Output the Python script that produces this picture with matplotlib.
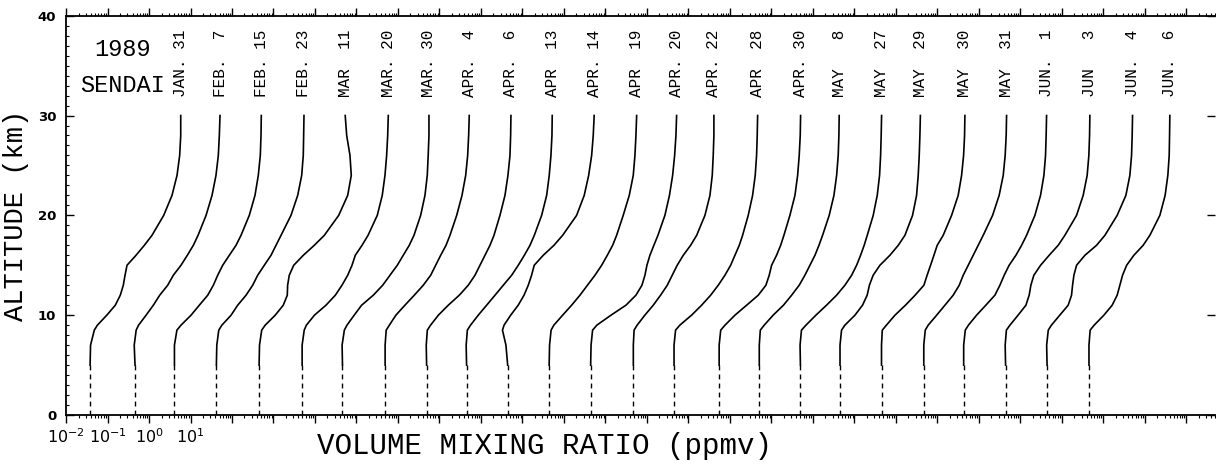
import numpy as np
import matplotlib
matplotlib.use('Agg')
import matplotlib.pyplot as plt
from matplotlib.ticker import FixedLocator, LogLocator, NullFormatter

# altitude levels (km) of the sonde profiles
alt = [5, 7, 8.5, 9, 10, 11, 12, 13, 14, 15, 16, 17, 18, 20, 22, 24, 26, 28, 30]

# ozone mixing ratio (ppmv), one list per launch
jan31 = [0.038, 0.039, 0.048, 0.057, 0.096, 0.154, 0.203, 0.240, 0.264, 0.295, 0.486, 0.771, 1.18, 2.26, 3.58, 4.73, 5.48, 5.81, 5.81]
feb07 = [0.046, 0.044, 0.049, 0.056, 0.085, 0.127, 0.181, 0.282, 0.385, 0.590, 0.838, 1.17, 1.52, 2.37, 3.30, 4.11, 4.68, 4.95, 5.14]
feb15 = [0.041, 0.041, 0.047, 0.059, 0.103, 0.163, 0.260, 0.355, 0.452, 0.597, 0.862, 1.25, 1.65, 2.61, 3.58, 4.30, 4.81, 5.00, 5.08]
feb23 = [0.042, 0.043, 0.048, 0.057, 0.095, 0.137, 0.218, 0.315, 0.416, 0.600, 0.871, 1.15, 1.52, 2.64, 3.83, 4.78, 5.22, 5.33, 5.43]
mar11 = [0.045, 0.046, 0.052, 0.063, 0.110, 0.172, 0.215, 0.219, 0.240, 0.307, 0.523, 0.962, 1.68, 3.73, 6.14, 7.49, 6.97, 5.81, 5.35]
mar20 = [0.049, 0.049, 0.055, 0.062, 0.097, 0.184, 0.309, 0.447, 0.614, 0.780, 0.936, 1.36, 1.90, 3.17, 4.18, 4.86, 5.33, 5.65, 5.84]
mar30 = [0.046, 0.045, 0.051, 0.059, 0.088, 0.133, 0.254, 0.428, 0.641, 0.962, 1.34, 1.87, 2.43, 3.52, 4.47, 5.08, 5.35, 5.58, 5.58]
apr04 = [0.049, 0.049, 0.052, 0.062, 0.089, 0.147, 0.247, 0.407, 0.614, 0.810, 1.07, 1.44, 1.79, 2.60, 3.49, 4.28, 4.78, 5.05, 5.22]
apr06 = [0.049, 0.048, 0.051, 0.061, 0.094, 0.163, 0.300, 0.494, 0.717, 0.946, 1.25, 1.65, 2.06, 2.87, 3.79, 4.47, 5.00, 5.19, 5.28]
apr13 = [0.045, 0.044, 0.047, 0.056, 0.086, 0.137, 0.218, 0.345, 0.549, 0.792, 1.11, 1.52, 1.93, 2.90, 3.83, 4.42, 4.86, 5.14, 5.22]
apr14 = [0.044, 0.040, 0.033, 0.036, 0.052, 0.079, 0.109, 0.138, 0.166, 0.192, 0.317, 0.574, 0.929, 2.02, 3.08, 3.94, 4.65, 5.08, 5.35]
apr19 = [0.044, 0.045, 0.049, 0.057, 0.093, 0.153, 0.243, 0.368, 0.559, 0.810, 1.11, 1.49, 1.86, 2.68, 3.75, 4.68, 5.14, 5.43, 5.65]
apr20 = [0.044, 0.045, 0.049, 0.062, 0.136, 0.312, 0.543, 0.758, 0.895, 1.00, 1.18, 1.47, 1.84, 2.71, 3.49, 4.16, 4.65, 5.00, 5.19]
apr22 = [0.047, 0.047, 0.049, 0.058, 0.089, 0.142, 0.213, 0.309, 0.407, 0.536, 0.750, 1.13, 1.58, 2.50, 3.30, 3.75, 3.96, 4.11, 4.11]
apr28 = [0.045, 0.045, 0.049, 0.062, 0.119, 0.208, 0.343, 0.523, 0.758, 1.04, 1.32, 1.68, 2.02, 2.76, 3.52, 4.07, 4.39, 4.55, 4.65]
apr30 = [0.055, 0.055, 0.060, 0.076, 0.132, 0.253, 0.481, 0.737, 0.885, 1.01, 1.33, 1.67, 2.00, 2.79, 3.69, 4.28, 4.68, 4.95, 5.05]
may08 = [0.051, 0.051, 0.054, 0.067, 0.110, 0.195, 0.307, 0.467, 0.641, 0.847, 1.12, 1.40, 1.71, 2.47, 3.21, 3.73, 4.07, 4.23, 4.30]
may27 = [0.050, 0.049, 0.053, 0.068, 0.118, 0.213, 0.372, 0.590, 0.857, 1.13, 1.41, 1.72, 2.04, 2.84, 3.55, 4.04, 4.28, 4.42, 4.52]
may29 = [0.045, 0.045, 0.049, 0.059, 0.103, 0.157, 0.203, 0.230, 0.283, 0.412, 0.717, 1.14, 1.65, 2.52, 3.15, 3.45, 3.65, 3.79, 3.89]
may30 = [0.045, 0.045, 0.047, 0.059, 0.095, 0.170, 0.290, 0.473, 0.565, 0.685, 0.825, 0.990, 1.38, 2.20, 3.17, 3.83, 4.28, 4.52, 4.60]
may31 = [0.047, 0.047, 0.051, 0.060, 0.096, 0.152, 0.240, 0.336, 0.419, 0.553, 0.730, 0.962, 1.27, 2.14, 3.08, 3.86, 4.30, 4.55, 4.65]
jun01 = [0.043, 0.043, 0.047, 0.056, 0.088, 0.147, 0.243, 0.321, 0.407, 0.536, 0.780, 1.07, 1.41, 2.24, 3.06, 3.69, 4.04, 4.18, 4.28]
jun03 = [0.044, 0.043, 0.046, 0.056, 0.088, 0.136, 0.163, 0.179, 0.211, 0.307, 0.494, 0.815, 1.18, 2.26, 3.26, 4.07, 4.47, 4.65, 4.73]
jun04 = [0.044, 0.043, 0.047, 0.056, 0.089, 0.142, 0.171, 0.181, 0.195, 0.226, 0.359, 0.685, 1.09, 2.15, 3.49, 4.35, 4.78, 4.95, 5.05]
jun06 = [0.045, 0.045, 0.048, 0.060, 0.103, 0.163, 0.215, 0.250, 0.290, 0.364, 0.543, 0.910, 1.32, 2.30, 3.08, 3.58, 3.86, 3.94, 4.00]

profiles = [jan31, feb07, feb15, feb23, mar11, mar20, mar30, apr04, apr06,
            apr13, apr14, apr19, apr20, apr22, apr28, apr30, may08, may27,
            may29, may30, may31, jun01, jun03, jun04, jun06]

dates = ['JAN. 31', 'FEB.  7', 'FEB. 15', 'FEB. 23', 'MAR  11', 'MAR. 20',
         'MAR. 30', 'APR.  4', 'APR.  6', 'APR  13', 'APR. 14', 'APR  19',
         'APR. 20', 'APR. 22', 'APR  28', 'APR. 30', 'MAY   8', 'MAY  27',
         'MAY  29', 'MAY  30', 'MAY  31', 'JUN.  1', 'JUN   3', 'JUN.  4',
         'JUN.  6']

xtick_labels = ['$10^{-2}$', '$10^{-1}$', '$10^{0}$', '$10^{1}$']

mono = 'Liberation Mono'

fig = plt.figure(figsize=(12.16, 4.70), dpi=100)
ax = fig.add_axes([0.0543, 0.117, 0.9452, 0.8496])

# each profile shifted one decade to the right of the previous one
for i, prof in enumerate(profiles):
    x = np.array(prof) * 10.0 ** i
    ax.plot(x, alt, color='black', lw=1.2, solid_joinstyle='round')
    ax.plot([x[0], x[0]], [0, alt[0]], color='black', lw=1.0, dashes=(3.5, 3))
    ax.text(x[-1], 31.9, dates[i], rotation=90, ha='center', va='bottom',
            family=mono, fontsize=11.5)

ax.set_xscale('log')
ax.set_xlim(1e-2, 10 ** 25.7)
ax.set_ylim(0, 40)

# x axis: decades, only the first four labelled
majors = 10.0 ** np.arange(-2, 26)
ax.xaxis.set_major_locator(FixedLocator(majors))
ax.set_xticklabels(xtick_labels + [''] * (len(majors) - len(xtick_labels)))
ax.xaxis.set_minor_locator(LogLocator(base=10, subs=np.arange(2, 10), numticks=200))
ax.xaxis.set_minor_formatter(NullFormatter())
ax.tick_params(axis='x', which='major', direction='out', length=6, width=1,
               top=True, pad=3, labelsize=11.5)
ax.tick_params(axis='x', which='minor', direction='out', length=2.5, width=0.8, top=True)

ax.set_yticks([0, 10, 20, 30, 40])
ax.set_yticks(np.arange(0, 41, 1), minor=True)
ax.tick_params(axis='y', which='major', direction='in', length=6, width=1,
               right=True, pad=7, labelsize=9.5)
ax.tick_params(axis='y', which='minor', direction='in', length=2.5, width=0.8)
for lab in ax.get_yticklabels():
    lab.set_fontweight('bold')

ax.spines['right'].set_visible(False)
for s in ['left', 'top', 'bottom']:
    ax.spines[s].set_linewidth(1.3)

ax.set_ylabel('ALTITUDE (km)', family=mono, fontsize=19.5, labelpad=6)
fig.text(0.448, 0.051, 'VOLUME MIXING RATIO (ppmv)', family=mono, fontsize=21,
         ha='center', va='center')

ax.text(2.3e-1, 36.6, '1989', family=mono, fontsize=17, ha='center', va='center')
ax.text(2.3e-1, 33.0, 'SENDAI', family=mono, fontsize=17, ha='center', va='center')

fig.savefig('out.png', dpi=100, facecolor='white')
